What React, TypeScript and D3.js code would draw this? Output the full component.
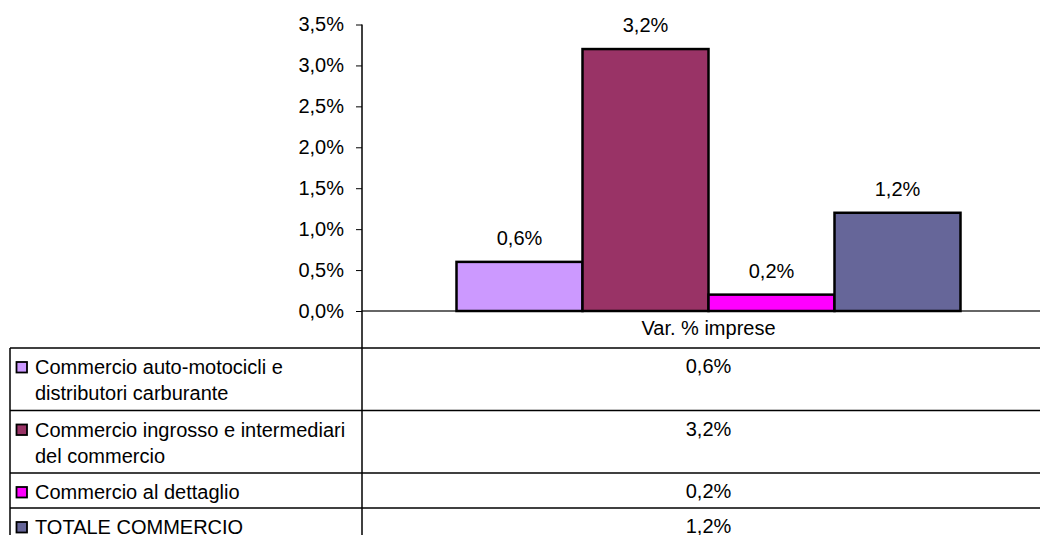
import React, { useEffect, useRef } from 'react';
import * as d3 from 'd3';

const categories = ['Var. % imprese'];
const seriesNames = [
  'Commercio auto-motocicli e distributori carburante',
  'Commercio ingrosso e intermediari del commercio',
  'Commercio al dettaglio',
  'TOTALE COMMERCIO',
];
// how the legend cells wrap the names
const legendLines = [
  ['Commercio auto-motocicli e', 'distributori carburante'],
  ['Commercio ingrosso e intermediari', 'del commercio'],
  ['Commercio al dettaglio'],
  ['TOTALE COMMERCIO'],
];
const values = [0.006, 0.032, 0.002, 0.012];
const colors = ['#CC99FF', '#993366', '#FF00FF', '#666699'];
const yTicks = [0, 0.005, 0.01, 0.015, 0.02, 0.025, 0.03, 0.035];

const itLocale = d3.formatLocale({ decimal: ',', thousands: '.', grouping: [3], currency: ['', ' €'] });
const pct = itLocale.format('.1%');

const W = 1040;
const H = 535;
const FONT = "'Liberation Sans', Arial, sans-serif";

export default function App() {
  const svgRef = useRef<SVGSVGElement>(null);

  useEffect(() => {
    const svg = d3.select(svgRef.current).html('');
    svg.attr('width', W).attr('height', H).style('font-family', FONT);

    const plotLeft = 362;
    const plotRight = 1055;
    const zeroY = 311;
    const topY = 24.5;
    const tableTop = 348;
    const tableLeft = 10;
    const tableRight = 1075;

    const y = d3.scaleLinear().domain([0, 0.035]).range([zeroY, topY]);
    const x0 = d3.scaleBand().domain(categories).range([plotLeft, plotRight]);
    const x1 = d3.scaleBand()
      .domain(seriesNames)
      .range([0, x0.bandwidth()])
      .paddingInner(0)
      .paddingOuter(0.75);

    // y axis
    const yAxis = svg.append('g')
      .attr('transform', `translate(${plotLeft},0)`)
      .call(d3.axisLeft(y).tickValues(yTicks).tickFormat(d => pct(d as number)).tickSize(6).tickSizeOuter(0).tickPadding(12));
    yAxis.select('.domain').remove();
    yAxis.selectAll('.tick line').attr('stroke', '#000');
    yAxis.selectAll('.tick text')
      .attr('fill', '#000')
      .style('font-size', '20px')
      .style('font-family', FONT);

    // zero line
    svg.append('line')
      .attr('x1', plotLeft).attr('x2', W)
      .attr('y1', y(0)).attr('y2', y(0))
      .attr('stroke', '#333').attr('stroke-width', 1.5);

    // bars
    const cat = categories[0];
    const g = svg.append('g').attr('transform', `translate(${x0(cat)},0)`);
    g.selectAll('rect.bar')
      .data(values)
      .enter()
      .append('rect')
      .attr('class', 'bar')
      .attr('x', (d, i) => x1(seriesNames[i])!)
      .attr('width', x1.bandwidth())
      .attr('y', d => y(d))
      .attr('height', d => y(0) - y(d))
      .attr('fill', (d, i) => colors[i])
      .attr('stroke', '#000')
      .attr('stroke-width', 2.5);

    g.selectAll('text.lbl')
      .data(values)
      .enter()
      .append('text')
      .attr('class', 'lbl')
      .attr('x', (d, i) => x1(seriesNames[i])! + x1.bandwidth() / 2)
      .attr('y', d => y(d) - 17)
      .attr('text-anchor', 'middle')
      .style('font-size', '20px')
      .attr('fill', '#000')
      .text(d => pct(d));

    const catCenter = x0(cat)! + x0.bandwidth() / 2;

    // category label
    svg.append('text')
      .attr('x', catCenter)
      .attr('y', 335)
      .attr('text-anchor', 'middle')
      .style('font-size', '20px')
      .attr('fill', '#000')
      .text(cat);

    // vertical axis line, through the data table
    svg.append('line')
      .attr('x1', plotLeft).attr('x2', plotLeft)
      .attr('y1', topY).attr('y2', H)
      .attr('stroke', '#000').attr('stroke-width', 1.5);

    // data table
    const lineH = 26;
    const rowHeights = legendLines.map(l => (l.length === 2 ? 62.5 : 35));
    let rowTop = tableTop;
    const rowTops: number[] = [];
    rowHeights.forEach(h => { rowTops.push(rowTop); rowTop += h; });

    svg.append('line')
      .attr('x1', tableLeft).attr('x2', tableLeft)
      .attr('y1', tableTop).attr('y2', H)
      .attr('stroke', '#000').attr('stroke-width', 1.5);

    rowTops.forEach((top, i) => {
      svg.append('line')
        .attr('x1', tableLeft).attr('x2', tableRight)
        .attr('y1', top).attr('y2', top)
        .attr('stroke', '#000').attr('stroke-width', 1.5);

      svg.append('rect')
        .attr('x', 16.5).attr('y', top + 14)
        .attr('width', 10.5).attr('height', 10.5)
        .attr('fill', colors[i])
        .attr('stroke', '#000').attr('stroke-width', 1.8);

      legendLines[i].forEach((ln, j) => {
        svg.append('text')
          .attr('x', 35)
          .attr('y', top + lineH + j * lineH)
          .style('font-size', '20px')
          .attr('fill', '#000')
          .text(ln);
      });

      svg.append('text')
        .attr('x', catCenter)
        .attr('y', top + 25)
        .attr('text-anchor', 'middle')
        .style('font-size', '20px')
        .attr('fill', '#000')
        .text(pct(values[i]));
    });
  }, []);

  return (
    <svg
      ref={svgRef}
      width={W}
      height={H}
      style={{ position: 'absolute', left: 0, top: 0, background: '#fff' }}
    />
  );
}
